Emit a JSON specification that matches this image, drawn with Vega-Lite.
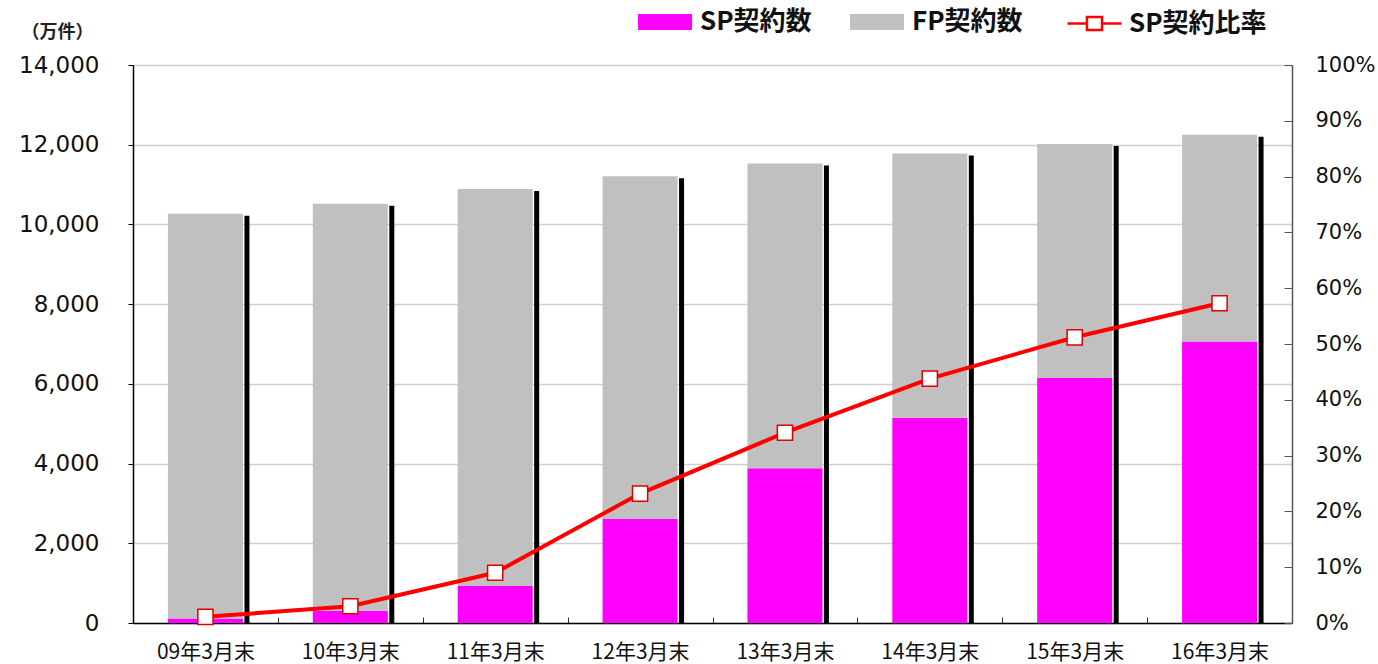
{
  "$schema": "https://vega.github.io/schema/vega-lite/v6.json",
  "width": 1159,
  "height": 558,
  "autosize": "none",
  "padding": {"left": 133, "top": 65, "right": 86, "bottom": 41},
  "background": "white",
  "config": {
    "view": {"stroke": "#808080", "strokeWidth": 1},
    "font": "DejaVu Sans"
  },
  "data": {
    "values": [
      {"period": "09年3月末", "sp": 110, "fp": 10160, "total": 10270, "ratio": 1.1},
      {"period": "10年3月末", "sp": 310, "fp": 10210, "total": 10520, "ratio": 3.0},
      {"period": "11年3月末", "sp": 930, "fp": 9960, "total": 10890, "ratio": 9.0},
      {"period": "12年3月末", "sp": 2610, "fp": 8600, "total": 11210, "ratio": 23.2},
      {"period": "13年3月末", "sp": 3880, "fp": 7650, "total": 11530, "ratio": 34.1},
      {"period": "14年3月末", "sp": 5150, "fp": 6630, "total": 11780, "ratio": 43.8},
      {"period": "15年3月末", "sp": 6150, "fp": 5870, "total": 12020, "ratio": 51.2},
      {"period": "16年3月末", "sp": 7060, "fp": 5190, "total": 12250, "ratio": 57.3}
    ]
  },
  "encoding": {
    "x": {
      "field": "period",
      "type": "nominal",
      "sort": null,
      "scale": {"paddingInner": 0, "paddingOuter": 0},
      "axis": {
        "title": null,
        "labelAngle": 0,
        "labelFont": "Noto Sans CJK JP",
        "labelFontSize": 21,
        "labelBaseline": "middle",
        "labelColor": "#111111",
        "labelPadding": 35,
        "tickBand": "extent",
        "tickSize": -6,
        "tickColor": "#333333",
        "domainColor": "#000000",
        "domainWidth": 1.5
      }
    }
  },
  "layer": [
    {
      "layer": [
        {
          "transform": [{"fold": ["sp", "fp"], "as": ["key", "count"]}],
          "mark": {"type": "bar", "width": 75},
          "encoding": {
            "y": {
              "field": "count",
              "type": "quantitative",
              "stack": "zero",
              "scale": {"domain": [0, 14000], "nice": false},
              "axis": {
                "title": "（万件）",
                "titleAngle": 0,
                "titleX": -76,
                "titleY": -33,
                "titleAlign": "center",
                "titleBaseline": "middle",
                "titleFont": "Noto Sans CJK JP",
                "titleFontSize": 18,
                "titleFontWeight": "bold",
                "titleColor": "#222222",
                "values": [0, 2000, 4000, 6000, 8000, 10000, 12000, 14000],
                "format": ",d",
                "labelFont": "DejaVu Sans",
                "labelFontSize": 23,
                "labelColor": "#111111",
                "labelPadding": 29,
                "tickSize": 5,
                "tickColor": "#000000",
                "domainColor": "#000000",
                "domainWidth": 1.5,
                "grid": true,
                "gridColor": "#d0d0d0",
                "gridWidth": 1.5
              }
            },
            "color": {
              "field": "key",
              "type": "nominal",
              "scale": {
                "domain": ["sp", "fp"],
                "range": ["#ff00ff", "#c0c0c0"]
              },
              "legend": {
                "orient": "none",
                "legendX": 505,
                "legendY": -70,
                "direction": "horizontal",
                "title": null,
                "labelExpr": "datum.value === 'sp' ? 'SP契約数' : 'FP契約数'",
                "labelFont": "Noto Sans CJK JP",
                "labelFontSize": 26,
                "labelFontWeight": "bold",
                "labelColor": "#111111",
                "labelOffset": 8,
                "columnPadding": 38,
                "symbolSize": 2916,
                "symbolType": "M-1,-0.3H1V0.3H-1Z",
                "symbolStrokeWidth": 0
              }
            },
            "order": {"field": "key", "sort": "descending"}
          }
        },
        {
          "mark": {"type": "bar", "width": 5, "xOffset": 41.5, "yOffset": 2, "color": "#000000", "clip": true},
          "encoding": {
            "y": {"field": "total", "type": "quantitative", "title": "（万件）"}
          }
        }
      ]
    },
    {
      "layer": [
        {
          "mark": {"type": "line", "strokeWidth": 4},
          "encoding": {
            "y": {
              "field": "ratio",
              "type": "quantitative",
              "scale": {"domain": [0, 100], "nice": false},
              "axis": {
                "orient": "right",
                "title": null,
                "values": [0, 10, 20, 30, 40, 50, 60, 70, 80, 90, 100],
                "labelExpr": "datum.value + '%'",
                "labelFont": "DejaVu Sans",
                "labelFontSize": 21,
                "labelColor": "#111111",
                "labelPadding": 31,
                "tickSize": -8,
                "tickColor": "#555555",
                "domainColor": "#555555",
                "domainWidth": 1.5,
                "grid": false
              }
            },
            "stroke": {
              "datum": "SP契約比率",
              "scale": {"domain": ["SP契約比率"], "range": ["#ff0000"]},
              "legend": {
                "orient": "none",
                "legendX": 933,
                "legendY": -70,
                "direction": "horizontal",
                "title": null,
                "labelFont": "Noto Sans CJK JP",
                "labelFontSize": 26,
                "labelFontWeight": "bold",
                "labelColor": "#111111",
                "labelOffset": 6,
                "symbolSize": 2916,
                "symbolType": "M-1,0H-0.28M0.28,0H1M-0.28,-0.24H0.28V0.24H-0.28Z",
                "symbolStrokeWidth": 2.5,
                "symbolFillColor": "#ffffff",
                "encode": {
                  "symbols": {
                    "update": {
                      "fill": {"value": "#ffffff"},
                      "fillOpacity": {"value": 1},
                      "stroke": {"value": "#ff0000"},
                      "strokeWidth": {"value": 2.5}
                    }
                  }
                }
              }
            }
          }
        },
        {
          "mark": {"type": "point", "shape": "square", "size": 230, "filled": true, "fill": "#ffffff", "stroke": "#e00000", "strokeWidth": 1.5, "opacity": 1},
          "encoding": {
            "y": {"field": "ratio", "type": "quantitative"}
          }
        }
      ]
    }
  ],
  "resolve": {"scale": {"y": "independent"}}
}
